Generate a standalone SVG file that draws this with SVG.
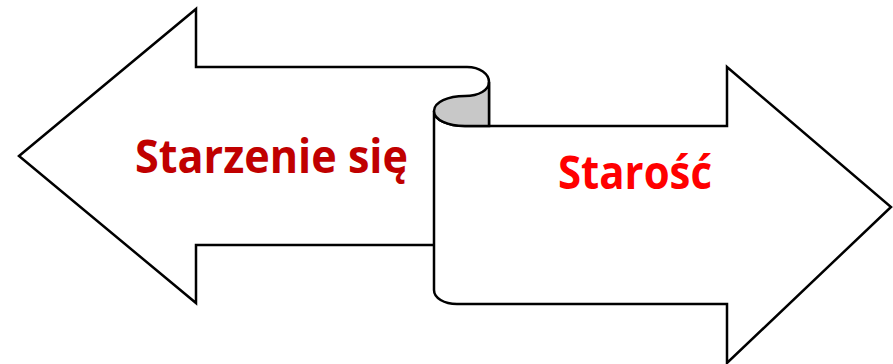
<svg xmlns="http://www.w3.org/2000/svg" width="893" height="364" viewBox="0 0 893 364">
  <style>
    .shape { fill: #ffffff; stroke: #000000; stroke-width: 2.5; stroke-linejoin: miter; }
    .curl { fill: #c8c8c8; stroke: #000000; stroke-width: 2.5; }
    .label { font-family: "Open Sans", "Liberation Sans", sans-serif; font-weight: bold; font-size: 47px; }
  </style>
  <rect width="893" height="364" fill="#ffffff"/>
  <!-- left-pointing arrow: ageing process -->
  <g id="starzenie">
    <path class="shape" d="M19,156 L196,9 L196,67 L467,67 C480,67 489,74 489,82 L489,245 L196,245 L196,303 Z"/>
    <text class="label" x="135" y="173" fill="#c00000" textLength="273" lengthAdjust="spacingAndGlyphs">Starzenie się</text>
  </g>
  <!-- right-pointing arrow with rolled scroll edge: old age -->
  <g id="starosc">
    <path class="shape" d="M434,111 C434,120 448,126 465,126 L727,126 L727,67 L891,207 L727,363 L727,304 L457,304 C444,304 434,298 434,290 Z"/>
    <path class="curl" d="M434,111 C434,102 448,96 465,96 C479,96 489,90 489,82 L489,126 L465,126 C448,126 434,120 434,111 Z"/>
    <text class="label" x="558" y="189" fill="#ff0000" textLength="154" lengthAdjust="spacingAndGlyphs">Starość</text>
  </g>
</svg>
